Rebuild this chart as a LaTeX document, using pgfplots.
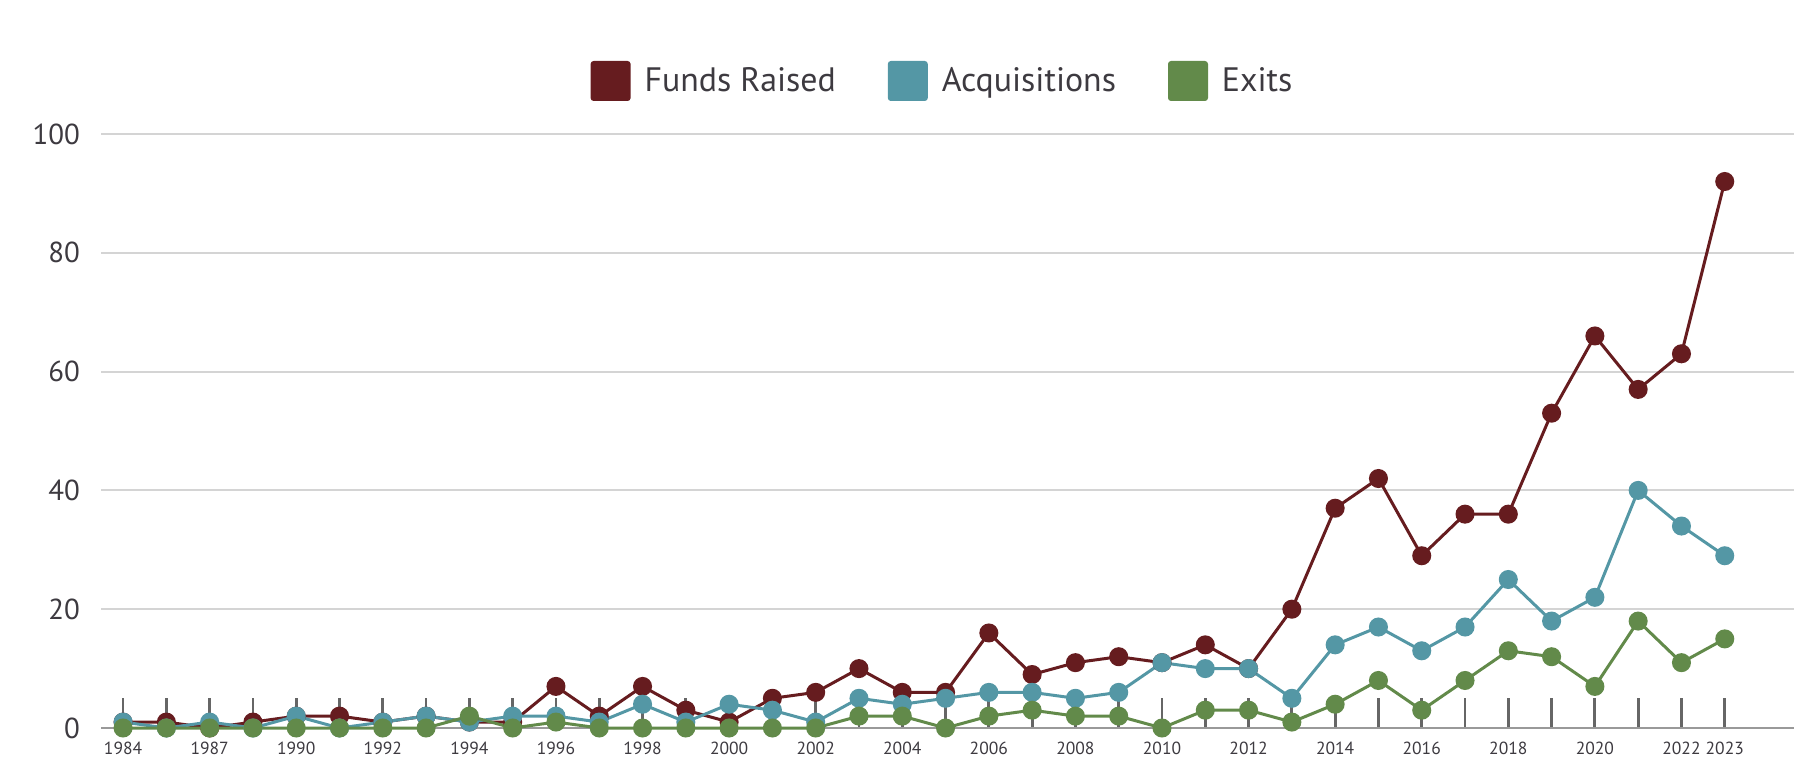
\documentclass[border=0pt]{standalone}
\usepackage{fontspec}
\setmainfont{PT Sans}
\usepackage{pgfplots}
\usepackage{pgfplotstable}
\pgfplotsset{compat=1.18}

\definecolor{fr}{HTML}{661C1F}
\definecolor{acq}{HTML}{5497A5}
\definecolor{ex}{HTML}{628A4A}
\definecolor{txt}{HTML}{3D3A40}
\definecolor{gridc}{HTML}{D4D4D4}
\definecolor{tickc}{HTML}{666666}

% index 0..37, labels 1984 ... 2023
\pgfplotstableread{
i  fr  acq ex
0  1   1   0
1  1   0   0
2  0   1   0
3  1   0   0
4  2   2   0
5  2   0   0
6  1   1   0
7  2   2   0
8  1   1   2
9  1   2   0
10 7   2   1
11 2   1   0
12 7   4   0
13 3   1   0
14 1   4   0
15 5   3   0
16 6   1   0
17 10  5   2
18 6   4   2
19 6   5   0
20 16  6   2
21 9   6   3
22 11  5   2
23 12  6   2
24 11  11  0
25 14  10  3
26 10  10  3
27 20  5   1
28 37  14  4
29 42  17  8
30 29  13  3
31 36  17  8
32 36  25  13
33 53  18  12
34 66  22  7
35 57  40  18
36 63  34  11
37 92  29  15
}\data

\begin{document}
\begin{tikzpicture}
\useasboundingbox (0,0) rectangle (908bp,392bp);
\begin{axis}[
    at={(50.5bp,28bp)}, anchor=south west,
    scale only axis,
    width=846.5bp, height=297bp,
    xmin=-0.51, xmax=38.6,
    ymin=0, ymax=100,
    clip=false,
    axis x line=bottom, axis y line=left,
    axis line style={-},
    y axis line style={draw=none},
    x axis line style={draw=black!40, line width=1.3bp},
    ytick={0,20,...,100},
    ymajorgrids,
    grid style={gridc, line width=1bp},
    ytick style={draw=none},
    xtick={0,...,37},
    xticklabels={1984,,1987,,1990,,1992,,1994,,1996,,1998,,2000,,2002,,2004,,2006,,2008,,2010,,2012,,2014,,2016,,2018,,2020,,2022,2023},
    tick align=inside,
    major tick length=15bp,
    xtick style={tickc, line width=1.4bp},
    /pgf/number format/assume math mode=true,
    yticklabel style={font=\fontsize{14.5}{16}\selectfont, text=txt, xshift=-7bp},
    xticklabel style={font=\fontsize{8.8}{10}\selectfont, text=txt, yshift=-3.5bp},
    legend columns=3,
    legend style={at={(0.5,1)}, anchor=center, yshift=26.5bp, xshift=-2bp, draw=none, fill=none,
        font=\fontsize{17}{20}\selectfont, text=txt,
        /tikz/every odd column/.append style={column sep=5bp},
        /tikz/every even column/.append style={column sep=24bp}},
    legend image code/.code={\fill[#1, draw=none, rounded corners=1.5bp] (0bp,-10bp) rectangle (20bp,10bp);},
    every axis plot/.append style={line width=1.5bp, mark=*, mark size=4bp, mark options={solid}},
]
\addplot[color=fr] table[x=i, y=fr] {\data};
\addlegendentry{Funds Raised}
\addplot[color=acq] table[x=i, y=acq] {\data};
\addlegendentry{Acquisitions}
\addplot[color=ex] table[x=i, y=ex] {\data};
\addlegendentry{Exits}
\end{axis}
\end{tikzpicture}
\end{document}
